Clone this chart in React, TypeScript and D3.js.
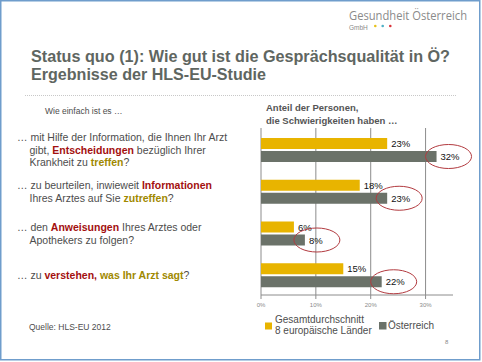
import React from 'react';
import * as d3 from 'd3';

// Data
const categories = ['Entscheidungen', 'Informationen', 'Anweisungen', 'Verstehen'];
const euAverage = [23, 18, 6, 15];
const austria = [32, 23, 8, 22];
const xTicks = [0, 10, 20, 30];
const seriesNames = ['Gesamtdurchschnitt', 'Österreich'];

// question texts: segments of [text, style] where n=normal, r=red bold, g=gold bold
const questions: [string, string][][][] = [
  [
    [['… mit Hilfe der Information, die Ihnen Ihr Arzt', 'n']],
    [['gibt, ', 'n'], ['Entscheidungen', 'r'], [' bezüglich Ihrer', 'n']],
    [['Krankheit zu ', 'n'], ['treffen', 'g'], ['?', 'n']],
  ],
  [
    [['… zu beurteilen, inwieweit ', 'n'], ['Informationen', 'r']],
    [['Ihres Arztes auf Sie ', 'n'], ['zutreffen', 'g'], ['?', 'n']],
  ],
  [
    [['… den ', 'n'], ['Anweisungen', 'r'], [' Ihres Arztes oder', 'n']],
    [['Apothekers zu folgen?', 'n']],
  ],
  [
    [['… zu ', 'n'], ['verstehen,', 'r'], [' ', 'n'], ['was Ihr Arzt sagt', 'g'], ['?', 'n']],
  ],
];

const W = 482;
const H = 362;
const YELLOW = '#e8b400';
const GRAY = '#6b7269';
const RED_TXT = '#a3100f';
const GOLD_TXT = '#a08900';
const TXT = '#4d4d4d';

const segStyle: Record<string, any> = {
  n: { fill: TXT, fontWeight: 'normal' },
  r: { fill: RED_TXT, fontWeight: 'bold' },
  g: { fill: GOLD_TXT, fontWeight: 'bold' },
};

export default function App() {
  const plot = { left: 261, right: 453, top: 128, bottom: 295 };

  const x = d3.scaleLinear().domain([0, 35]).range([plot.left, plot.right]);
  const y = d3.scaleBand().domain(categories).range([plot.top, plot.bottom]);
  const barH = 11;

  return (
    <svg
      width={W}
      height={H}
      style={{ position: 'fixed', left: 0, top: 0, background: '#fff' }}
      fontFamily="'Liberation Sans', Arial, sans-serif"
    >
      <rect x={0} y={0} width={W} height={H} fill="#fff" />
      <rect x={0.75} y={0.75} width={W - 3} height={H - 3} fill="none" stroke="#6f9dcc" strokeWidth={1.5} />

      {/* logo */}
      <text x={349} y={20} fontSize={12.5} fill="#8a8a8a" fontFamily="'Open Sans', sans-serif" textLength={118} lengthAdjust="spacingAndGlyphs">
        Gesundheit Österreich
      </text>
      <text x={349} y={29.5} fontSize={6.5} fill="#8a8a8a">GmbH</text>
      <circle cx={375.3} cy={26} r={1.3} fill="#e8c11a" />
      <circle cx={382.7} cy={26} r={1.3} fill="#4fb0c6" />
      <circle cx={390.3} cy={26} r={1.3} fill="#d9323a" />

      {/* title */}
      <text x={31} y={62} fontSize={16} fontWeight="bold" fill="#5f6661" textLength={419} lengthAdjust="spacingAndGlyphs">
        Status quo (1): Wie gut ist die Gesprächsqualität in Ö?
      </text>
      <text x={31} y={80} fontSize={16} fontWeight="bold" fill="#5f6661" textLength={235} lengthAdjust="spacingAndGlyphs">
        Ergebnisse der HLS-EU-Studie
      </text>
      <line x1={25} x2={456} y1={95.5} y2={95.5} stroke="#c8c8c8" strokeWidth={1} strokeDasharray="1,1" />

      <text x={45} y={114} fontSize={8.5} fill={TXT}>Wie einfach ist es …</text>

      {/* questions */}
      {questions.map((lines, qi) => {
        const center = (y(categories[qi]) as number) + y.bandwidth() / 2 + 1;
        const first = center - ((lines.length - 1) * 12.5) / 2 + 4;
        return lines.map((segs, li) => (
          <text key={`${qi}-${li}`} x={li === 0 ? 17 : 29.5} y={first + li * 12.5} fontSize={10.5}>
            {segs.map(([t, s], si) => (
              <tspan key={si} style={segStyle[s]}>{t}</tspan>
            ))}
          </text>
        ));
      })}

      {/* chart header */}
      <text x={266} y={111} fontSize={9.5} fill="#555" fontWeight="bold">Anteil der Personen,</text>
      <text x={266} y={123.5} fontSize={9.5} fill="#555" fontWeight="bold">die Schwierigkeiten haben …</text>

      {/* grid */}
      {xTicks.filter(t => t > 0).map(t => (
        <line key={t} x1={x(t)} x2={x(t)} y1={plot.top} y2={plot.bottom} stroke="#8c8c8c" strokeWidth={1} />
      ))}
      <line x1={plot.left} x2={plot.left} y1={plot.top} y2={plot.bottom} stroke="#8c8c8c" strokeWidth={1} />
      <line x1={plot.left} x2={plot.right} y1={plot.bottom} y2={plot.bottom} stroke="#8c8c8c" strokeWidth={1} />
      {xTicks.map(t => (
        <g key={t}>
          <line x1={x(t)} x2={x(t)} y1={plot.bottom} y2={plot.bottom + 4} stroke="#8c8c8c" />
          <text x={x(t)} y={307} fontSize={6} fill="#8a8a8a" textAnchor="middle">{t}%</text>
        </g>
      ))}

      {/* bars */}
      {categories.map((c, i) => {
        const b = y(c) as number;
        const yEnd = x(euAverage[i]);
        const aEnd = x(austria[i]);
        const aMid = b + 23 + barH / 2;
        return (
          <g key={c}>
            <rect x={plot.left} y={b + 10} width={yEnd - plot.left} height={barH} fill={YELLOW} />
            <rect x={plot.left} y={b + 23} width={aEnd - plot.left} height={barH} fill={GRAY} />
            <text x={yEnd + 4} y={b + 10 + barH / 2 + 3.5} fontSize={9.5} fill="#111">{euAverage[i]}%</text>
            <text x={aEnd + 4} y={aMid + 3.5} fontSize={9.5} fill="#111">{austria[i]}%</text>
            <ellipse cx={aEnd + 12} cy={aMid} rx={23} ry={12} fill="none" stroke="#b23a3f" strokeWidth={1} />
          </g>
        );
      })}

      {/* legend */}
      <rect x={265} y={322.5} width={7} height={7} fill={YELLOW} />
      <text x={275} y={322.5} fontSize={10} fill={TXT}>{seriesNames[0]}</text>
      <text x={275} y={334} fontSize={10} fill={TXT}>8 europäische Länder</text>
      <rect x={379} y={322} width={7.5} height={7.5} fill={GRAY} />
      <text x={388} y={329} fontSize={10} fill={TXT}>{seriesNames[1]}</text>

      <text x={29} y={330} fontSize={8.5} fill={TXT}>Quelle: HLS-EU 2012</text>
      <text x={445} y={344} fontSize={6} fill="#888">8</text>
    </svg>
  );
}
